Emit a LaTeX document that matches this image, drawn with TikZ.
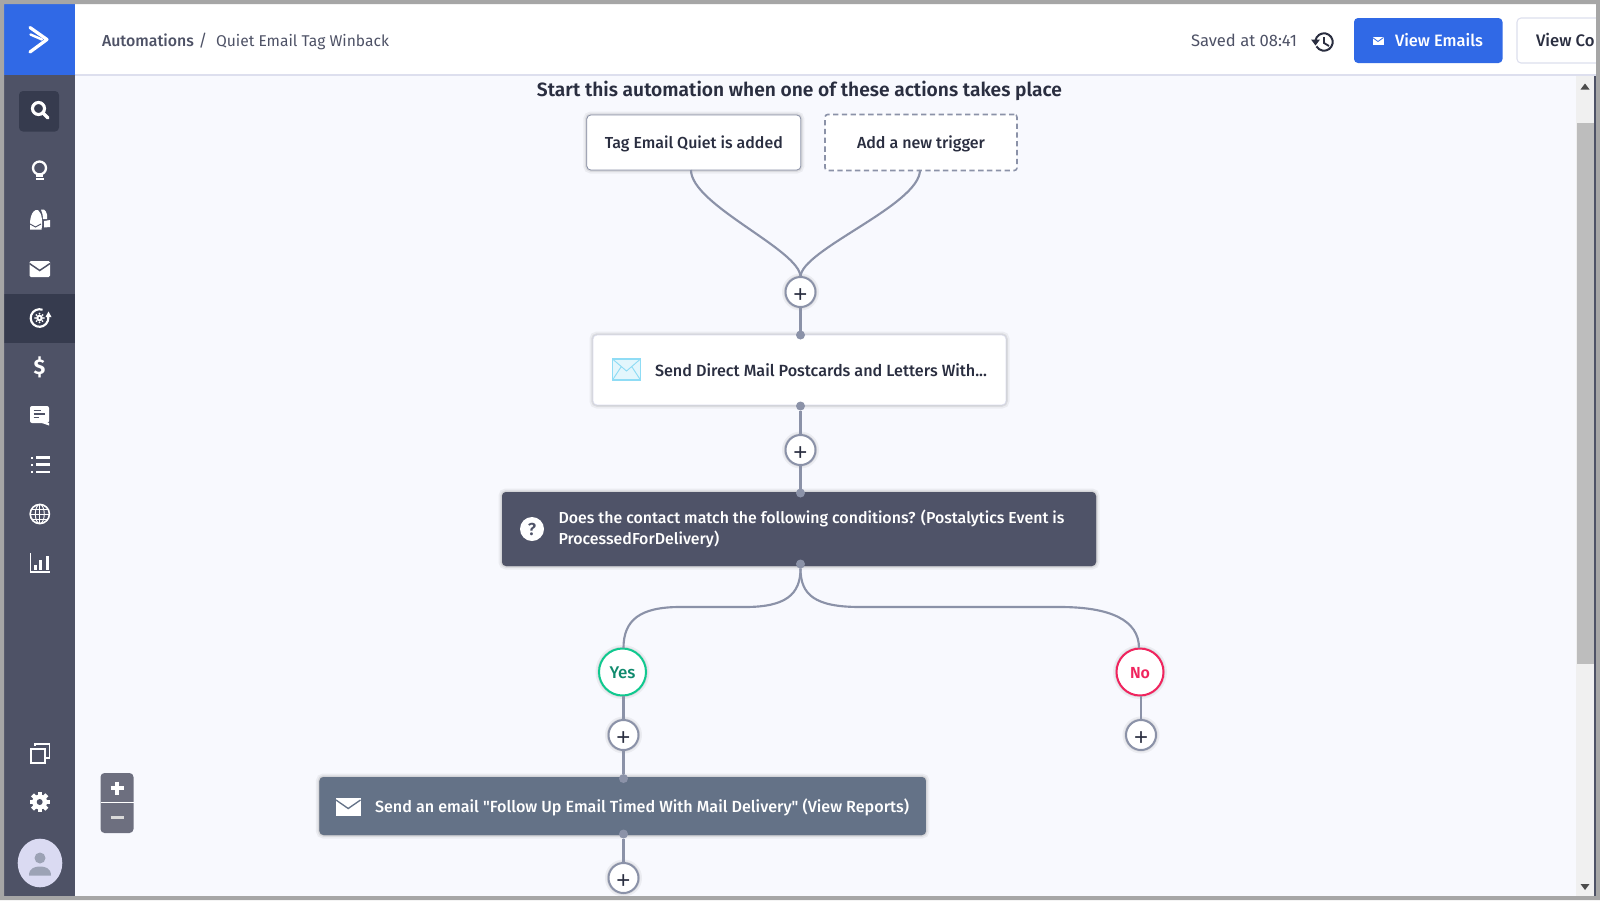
\documentclass[tikz,border=0pt]{standalone}
\usepackage{fontspec}
\usepackage{graphicx}
\usetikzlibrary{calc}
\setmainfont{Fira Sans}
\newfontface\medf{Fira Sans Medium}
\newfontface\semif{Fira Sans SemiBold}
\newfontface\plusf{Liberation Sans}
\newdimen\unitpx \unitpx=0.75pt
\newcommand\fitw[2]{\resizebox{#1\unitpx}{!}{#2}}
\newcommand\lbox[3]{\makebox[#1\unitpx][l]{\hspace*{#2\unitpx}#3}}
\definecolor{framegray}{HTML}{A6A6A6}
\definecolor{sidebar}{HTML}{4E5266}
\definecolor{sidedark}{HTML}{363B4E}
\definecolor{brandblue}{HTML}{3069E6}
\definecolor{canvasbg}{HTML}{F8F9FE}
\definecolor{rulec}{HTML}{DDDFEE}
\definecolor{linec}{HTML}{8B92A8}
\definecolor{inkc}{HTML}{2A2E40}
\definecolor{decis}{HTML}{4F5368}
\definecolor{mailbox}{HTML}{647287}
\definecolor{yesc}{HTML}{10C98F}
\definecolor{yestx}{HTML}{0F8A6D}
\definecolor{noc}{HTML}{F0245E}
\definecolor{zoomc}{HTML}{6D6F7F}
\definecolor{skyc}{HTML}{8FDCF5}
\tikzset{
 wh/.style 2 args={minimum width=#1*0.75pt,minimum height=#2*0.75pt},
 basel/.style={text height=#1*2*0.75pt,text depth=0pt},
 softshadow/.style={
   preaction={draw=black,draw opacity=.05,fill=black,fill opacity=.05,line width=7*0.75pt,yshift=-3pt},
   preaction={draw=black,draw opacity=.07,fill=black,fill opacity=.07,line width=3.5*0.75pt,yshift=-2.5pt},
   preaction={draw=black,draw opacity=.09,fill=black,fill opacity=.09,line width=1*0.75pt,yshift=-2pt}},
 base/.style={rectangle,rounded corners=3pt,inner sep=0pt,outer sep=0pt,softshadow},
 trigger/.style={base,fill=white,draw=linec,line width=0.6pt,text=inkc},
 newtrigger/.style={rectangle,rounded corners=2pt,inner sep=0pt,outer sep=0pt,fill=white,draw=linec,line width=1.2pt,dash pattern=on 4pt off 2.6pt,text=inkc},
 stepwhite/.style={base,fill=white,draw=rulec,line width=0.6pt,text=inkc},
 stepdark/.style={base,fill=decis,text=white},
 stepmail/.style={base,fill=mailbox,text=white},
 plusbtn/.style={circle,minimum size=30*0.75pt,inner sep=0pt,outer sep=0pt,fill=white,draw=linec,line width=1.5pt,softshadow,text=inkc,basel=10,font=\fontsize{18}{18}\plusf},
 yesbtn/.style={circle,minimum size=47*0.75pt,inner sep=0pt,outer sep=0pt,fill=white,draw=yesc,line width=1.5pt,softshadow,text=yestx,basel=6.3},
 nobtn/.style={circle,minimum size=47*0.75pt,inner sep=0pt,outer sep=0pt,fill=white,draw=noc,line width=1.5pt,softshadow,text=noc,basel=6},
 port/.style={circle,minimum size=9*0.75pt,inner sep=0pt,outer sep=0pt,fill=linec},
 conn/.style={draw=linec,line width=1.6pt},
 icon/.style={draw=white,line width=1.7pt,fill=none},
 iconfill/.style={fill=white,draw=none},
 txt/.style={inner sep=0pt,outer sep=0pt},
}
\begin{document}
\begin{tikzpicture}[x=0.75pt,y=-0.75pt]
\useasboundingbox (0,0) rectangle (1600,900);
% backgrounds
\fill[canvasbg] (0,0) rectangle (1600,900);
\fill[white] (74,0) rectangle (1600,74);
\fill[rulec] (74,74) rectangle (1600,76);
\fill[sidebar] (0,75) rectangle (74.5,900);
\fill[brandblue] (0,0) rectangle (74.5,75);
\fill[sidedark] (0,294) rectangle (74.5,343);
\fill[sidedark,rounded corners=3pt] (19,91) rectangle (59,131.5);
% scrollbar
\fill[black!6] (1576,76) rectangle (1594,900);
\fill[black!26] (1577,123) rectangle (1594,664);
\fill[black!70] (1585,83.5) -- (1589.5,89.5) -- (1580.5,89.5) -- cycle;
\fill[black!70] (1585,890) -- (1589.5,884) -- (1580.5,884) -- cycle;
\fill[sidebar] (1594,76) rectangle (1596,900);
% logo
\draw[white,line width=2.4pt,line cap=round,line join=round] (30,27.5) -- (47,39.5) -- (30,52);
\draw[white,line width=1.8pt,line cap=round] (30.5,34.5) -- (42,39.5);
% sidebar icons
\draw[icon,line width=2.3pt] (38.5,108.5) circle[radius=6];
\draw[white,line width=2.6pt,line cap=round] (43,113) -- (48,118);
\draw[icon] (39.5,168) circle[radius=6.5];
\fill[white] (36.3,173) rectangle (42.7,176.5);
\draw[white,line width=1.3pt] (36,179) -- (44,179);
\fill[iconfill] (30,229.5) -- (30,222) .. controls (31,212) and (35,209) .. (38,210) .. controls (42,213) and (43,222) .. (41.5,229.5) -- cycle;
\fill[iconfill] (41,209.5) .. controls (45,208) and (48,213) .. (47,219) -- (43,219) .. controls (43,215) and (42,212) .. (41,209.5) -- cycle;
\fill[iconfill] (44,221) -- (50,220) -- (50,227) -- (44,227.5) -- cycle;
\draw[sidebar,line width=0.7pt] (30,224) -- (35.5,227) -- (41,224);
\fill[iconfill,rounded corners=1pt] (29.5,261) rectangle (50,277);
\draw[sidebar,line width=1.1pt] (29.5,263.5) -- (39.7,270.5) -- (50,263.5);
% automation icon
\draw[icon,line width=1.6pt] (39.5,318) ++(-70:8.8) arc[start angle=-70,end angle=-375,radius=8.8];
\fill[white] (48.5,311.5) -- (51.5,317) -- (45.5,317) -- cycle;
\fill[white] (39.5,318) circle[radius=3.4];
\foreach \a in {0,45,...,315}{\fill[white] (39.5,318) ++(\a:4.4) circle[radius=1];}
\fill[sidedark] (39.5,318) circle[radius=1.2];
\node[txt,text=white] (dollaricon) at (39.5,367) {\fontsize{16}{16}\selectfont\bfseries \$};
% chat icon
\fill[iconfill,rounded corners=1.5pt] (30,406) rectangle (49,423);
\fill[iconfill] (42,423) -- (49,423) -- (49,425.5) -- cycle;
\draw[sidebar,line width=1.1pt] (33.5,410.5) -- (41,410.5) (33.5,414) -- (45,414) (33.5,417.5) -- (39,417.5);
% list icon
\foreach \yy in {457.5,464.5,472}{
  \fill[white] (30.5,\yy-1) rectangle (32.5,\yy+1);
  \fill[white] (36,\yy-1.2) rectangle (50,\yy+1.2);}
% globe
\draw[white,line width=1.2pt] (39.8,514) circle[radius=9.6];
\draw[white,line width=0.7pt] (39.8,514) ellipse[x radius=4.5,y radius=9.6];
\draw[white,line width=0.7pt] (30.2,514) -- (49.4,514) (31.5,509) -- (48,509) (31.5,519) -- (48,519) (39.8,504.4) -- (39.8,523.6);
% chart
\draw[white,line width=1.4pt] (30.5,553) -- (30.5,572) -- (50,572);
\fill[white] (33.7,565) rectangle (36.7,570);
\fill[white] (38.5,560) rectangle (41.5,570);
\fill[white] (45.5,556) rectangle (48.5,570);
% copy
\draw[white,line width=1.1pt] (35,746) -- (35,744) -- (49.5,744) -- (49.5,758) -- (46,758);
\draw[white,line width=1.5pt] (30.5,749) rectangle (44.5,762.5);
% gear
\foreach \a in {0,45,...,315}{\fill[white,rotate around={\a:(39.7,802)}] (37.6,791.8) rectangle (41.8,796);}
\fill[white] (39.7,802) circle[radius=7.5];
\fill[sidebar] (39.7,802) circle[radius=3];
% avatar
\fill[white!90!blue!95!black] (40,863) ellipse[x radius=22.3,y radius=24.3];
\fill[linec!85!white] (40,858) circle[radius=5.5];
\fill[linec!85!white] (29,875.5) .. controls (29,868) and (35,866.5) .. (40,866.5) .. controls (45,866.5) and (51,868) .. (51,875.5) -- cycle;
% zoom control
\fill[zoomc,rounded corners=3pt] (100.5,773) rectangle (133.5,833);
\fill[white] (100.5,802) rectangle (133.5,803);
\draw[white,line width=2.6pt] (110.5,788) -- (123.5,788) (117,781.5) -- (117,794.5);
\draw[white!85!black,line width=2.6pt] (110.5,817.5) -- (123.5,817.5);
% header
\node[txt,anchor=base west,text=sidebar] (crumbA) at (102,46) {\fitw{92}{\fontsize{12.5}{15}\medf Automations}};
\node[txt,anchor=base,text=sidebar] (crumbS) at (203,46) {\fontsize{12.5}{15}\selectfont /};
\node[txt,anchor=base west,text=sidebar] (crumbB) at (216,46) {\fitw{173}{\fontsize{12.5}{15}\selectfont Quiet Email Tag Winback}};
\node[txt,anchor=base west,text=sidebar] (saved) at (1191,46.7) {\fitw{106}{\fontsize{12.5}{15}\selectfont Saved at 08:41}};
% history icon
\draw[inkc,line width=1.5pt] (1324,42) ++(-170:8.7) arc[start angle=-170,end angle=150,radius=8.7];
\fill[inkc] (1311,39.5) -- (1320,39.5) -- (1315.5,45.5) -- cycle;
\draw[inkc,line width=1.4pt] (1324,37) -- (1324,43) -- (1329,46);
% buttons
\node[rectangle,rounded corners=3pt,inner sep=0pt,fill=brandblue,wh={148.5}{45},text=white,basel=6.2] (viewemails) at (1428.25,40.5) {\lbox{148.5}{41}{\fitw{88}{\fontsize{12.5}{15}\medf View Emails}}};
\fill[white] (1372.5,36.5) rectangle (1383.5,45);
\draw[brandblue,line width=0.6pt] (1372.5,37.5) -- (1378,41.5) -- (1383.5,37.5);
\node[rectangle,rounded corners=3pt,inner sep=0pt,fill=white,draw=rulec,line width=0.8pt,wh={110}{45},text=inkc,basel=6.2] (viewco) at (1572,40.5) {\lbox{110}{19}{\fontsize{12.5}{15}\medf View Co}};
% title
\node[txt,anchor=base,text=inkc] (title) at (799.5,96.5) {\fitw{525}{\fontsize{14}{16}\semif Start this automation when one of these actions takes place}};
% nodes
\node[trigger,wh={214}{55},basel=6.2] (t1) at (693.8,142.5) {\fitw{178}{\fontsize{12.5}{15}\medf Tag Email Quiet is added}};
\node[newtrigger,wh={192}{56},basel=6.2] (t2) at (921,142.5) {\fitw{128}{\fontsize{12.5}{15}\medf Add a new trigger}};
\node[plusbtn] (p1) at (800.5,292) {+};
\node[stepwhite,wh={413}{70},basel=6.7] (s1) at (799.5,370) {\lbox{413}{62}{\fitw{332}{\fontsize{12.5}{15}\medf Send Direct Mail Postcards and Letters With...}}};
\node[plusbtn] (p2) at (800.5,450) {+};
\node[stepdark,wh={594}{74},basel=4.8] (d1) at (799,529) {\lbox{594}{56.5}{\fitw{506}{\fontsize{12.5}{15.75}\medf\begin{tabular}[c]{@{}l@{}}Does the contact match the following conditions? (Postalytics Event is\\ProcessedForDelivery)\end{tabular}}}};
\node[yesbtn] (yes) at (622.5,672) {\fitw{26}{\fontsize{12}{14}\medf Yes}};
\node[nobtn] (no) at (1140,672) {\fitw{20}{\fontsize{12}{14}\semif No}};
\node[plusbtn] (p3) at (623.5,735) {+};
\node[plusbtn] (p4) at (1141,735) {+};
\node[stepmail,wh={606.5}{58},basel=6.5] (m1) at (622.7,806) {\lbox{606.5}{55.6}{\fitw{534}{\fontsize{12.5}{15}\medf Send an email "Follow Up Email Timed With Mail Delivery" (View Reports)}}};
\node[plusbtn] (p5) at (623.5,878) {+};
% ports
\node[port] (p1in) at (800.5,335) {};
\node[port] (s1out) at (800.5,406) {};
\node[port] (d1in) at (800.5,493) {};
\node[port] (d1out) at (800.5,564) {};
\node[port] (m1in) at (623.5,778.5) {};
\node[port] (m1out) at (623.5,834) {};
% connector ends off the node centres
\coordinate (t1out) at (691,170);
\coordinate (t2out) at (920,170);
\coordinate (yesin) at (623.5,648);
\coordinate (noin) at (1139,648);
\coordinate (yesout) at (623.5,696);
\coordinate (noout) at (1141,696);
% connectors
\draw[conn] (t1out) .. controls (691,205) and (800.5,250) .. (p1.north);
\draw[conn] (t2out) .. controls (920,205) and (800.5,250) .. (p1.north);
\draw[conn] (p1.south) -- (p1in);
\draw[conn] (s1out) -- (p2.north);
\draw[conn] (p2.south) -- (d1in);
\draw[conn] (d1out) .. controls (800.5,595) and (785,607) .. (745,607) -- (680,607) .. controls (640,607) and (623.5,620) .. (yesin);
\draw[conn] (d1out) .. controls (800.5,595) and (815,607) .. (860,607) -- (1060,607) .. controls (1110,607) and (1139,620) .. (noin);
\draw[conn] (yesout) -- (p3.north);
\draw[conn] (noout) -- (p4.north);
\draw[conn] (p3.south) -- (m1in);
\draw[conn] (m1out) -- (p5.north);
% step icons
\draw[skyc,line width=1pt,fill=skyc!25] (612.5,359) rectangle (640.5,380);
\draw[skyc,line width=0.7pt] (612.5,359) -- (626.5,371) -- (640.5,359) (612.5,380) -- (621,367) (640.5,380) -- (632,367);
\fill[white] (532,529) circle[radius=12];
\node[txt,text=decis] (qmark) at (532,529) {\fontsize{13}{15}\semif ?};
\fill[white] (336,798) rectangle (360.5,816);
\draw[mailbox,line width=1pt] (336,800) -- (348.2,808.5) -- (360.5,800);
% frame
\fill[framegray,even odd rule] (0,0) rectangle (1600,900) (4,4) rectangle (1596,896);
\end{tikzpicture}
\end{document}
